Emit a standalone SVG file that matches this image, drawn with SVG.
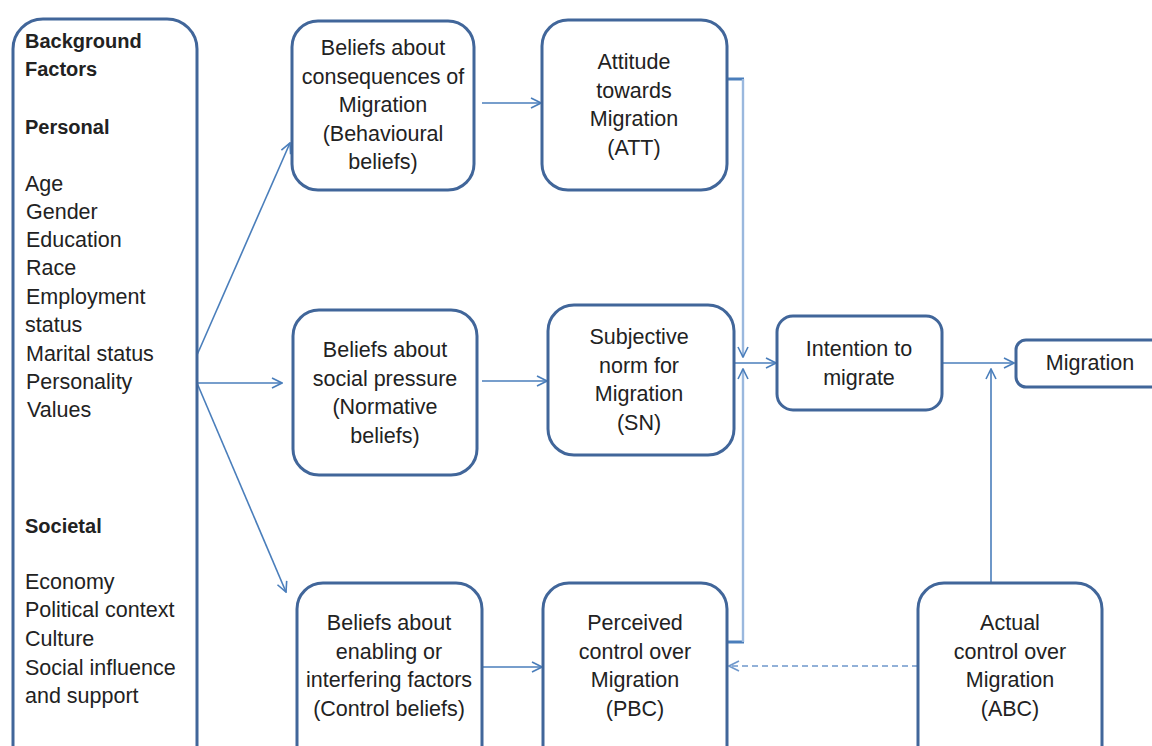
<svg xmlns="http://www.w3.org/2000/svg" width="1152" height="746" viewBox="0 0 1152 746">
  <defs>
    <marker id="open" viewBox="0 0 12 12" refX="11" refY="6" markerWidth="12" markerHeight="12" markerUnits="userSpaceOnUse" orient="auto">
      <path d="M1,1 L11,6 L1,11" fill="none" stroke="#4a7ebb" stroke-width="1.6"/>
    </marker>
    <marker id="openLight" viewBox="0 0 12 12" refX="11" refY="6" markerWidth="12" markerHeight="12" markerUnits="userSpaceOnUse" orient="auto">
      <path d="M1,1 L11,6 L1,11" fill="none" stroke="#6f98cc" stroke-width="1.6"/>
    </marker>
    <style>
      .box { fill: #ffffff; stroke: #41669a; stroke-width: 3; }
      .t { font-family: "Liberation Sans", Arial, sans-serif; font-size: 21.5px; fill: #222222; }
      .c { text-anchor: middle; }
      .b { font-weight: bold; font-size: 20px; }
      .link { fill: none; stroke: #4a7ebb; stroke-width: 1.6; }
      .rail { fill: none; stroke: #9ab8de; stroke-width: 2.4; }
      .stub { fill: none; stroke: #4a7ebb; stroke-width: 3; }
      .dash { fill: none; stroke: #6f98cc; stroke-width: 1.6; stroke-dasharray: 6 4; }
    </style>
  </defs>

  <rect width="1152" height="746" fill="#ffffff"/>

  <!-- connectors -->
  <g id="connectors">
    <line class="link" x1="197" y1="355" x2="290" y2="143" marker-end="url(#open)"/>
    <line class="link" x1="197" y1="383" x2="282" y2="383" marker-end="url(#open)"/>
    <line class="link" x1="197" y1="383" x2="286" y2="592" marker-end="url(#open)"/>
    <line class="link" x1="482" y1="103" x2="541" y2="103" marker-end="url(#open)"/>
    <line class="link" x1="482" y1="381" x2="547" y2="381" marker-end="url(#open)"/>
    <line class="link" x1="482" y1="667" x2="542" y2="667" marker-end="url(#open)"/>
    <!-- ATT and PBC feed into the shared rail -->
    <line class="stub" x1="727" y1="79" x2="744" y2="79"/>
    <line class="rail" x1="743" y1="79" x2="743" y2="357" marker-end="url(#open)"/>
    <line class="stub" x1="727" y1="642" x2="744" y2="642"/>
    <line class="rail" x1="743" y1="642" x2="743" y2="369" marker-end="url(#open)"/>
    <line class="link" x1="734" y1="363" x2="776" y2="363" marker-end="url(#open)"/>
    <line class="link" x1="942" y1="363" x2="1014" y2="363" marker-end="url(#open)"/>
    <line class="link" x1="991" y1="583" x2="991" y2="369" marker-end="url(#open)"/>
    <line class="dash" x1="918" y1="666" x2="729" y2="666" marker-end="url(#openLight)"/>
  </g>

  <!-- background factors -->
  <g id="background">
    <rect class="box" x="13" y="19" width="184" height="770" rx="30"/>
    <text class="t b" x="25" y="48">Background</text>
    <text class="t b" x="25" y="76">Factors</text>
    <text class="t b" x="25" y="134">Personal</text>
    <text class="t" x="25" y="191">Age</text>
    <text class="t" x="26" y="219">Gender</text>
    <text class="t" x="26" y="247">Education</text>
    <text class="t" x="26" y="275">Race</text>
    <text class="t" x="26" y="304">Employment</text>
    <text class="t" x="25" y="332">status</text>
    <text class="t" x="26" y="361">Marital status</text>
    <text class="t" x="26" y="389">Personality</text>
    <text class="t" x="27" y="417">Values</text>
    <text class="t b" x="25" y="533">Societal</text>
    <text class="t" x="25" y="589">Economy</text>
    <text class="t" x="25" y="617">Political context</text>
    <text class="t" x="25" y="646">Culture</text>
    <text class="t" x="25" y="675">Social influence</text>
    <text class="t" x="25" y="703">and support</text>
  </g>

  <g id="behavioural">
    <rect class="box" x="292" y="21" width="182" height="169" rx="26"/>
    <text class="t c" x="383" y="55">Beliefs about</text>
    <text class="t c" x="383" y="83.5">consequences of</text>
    <text class="t c" x="383" y="112">Migration</text>
    <text class="t c" x="383" y="140.5">(Behavioural</text>
    <text class="t c" x="383" y="169">beliefs)</text>
  </g>

  <g id="attitude">
    <rect class="box" x="542" y="20" width="185" height="170" rx="26"/>
    <text class="t c" x="634" y="69">Attitude</text>
    <text class="t c" x="634" y="97.5">towards</text>
    <text class="t c" x="634" y="126">Migration</text>
    <text class="t c" x="634" y="154.5">(ATT)</text>
  </g>

  <g id="normative">
    <rect class="box" x="293" y="310" width="184" height="165" rx="26"/>
    <text class="t c" x="385" y="357">Beliefs about</text>
    <text class="t c" x="385" y="385.5">social pressure</text>
    <text class="t c" x="385" y="414">(Normative</text>
    <text class="t c" x="385" y="442.5">beliefs)</text>
  </g>

  <g id="subjective-norm">
    <rect class="box" x="548" y="305" width="186" height="150" rx="26"/>
    <text class="t c" x="639" y="344">Subjective</text>
    <text class="t c" x="639" y="372.5">norm for</text>
    <text class="t c" x="639" y="401">Migration</text>
    <text class="t c" x="639" y="429.5">(SN)</text>
  </g>

  <g id="intention">
    <rect class="box" x="777" y="316" width="165" height="94" rx="16"/>
    <text class="t c" x="859" y="356">Intention to</text>
    <text class="t c" x="859" y="384.5">migrate</text>
  </g>

  <g id="migration">
    <rect class="box" x="1016" y="340" width="170" height="47" rx="10"/>
    <text class="t c" x="1090" y="370">Migration</text>
  </g>

  <g id="control-beliefs">
    <rect class="box" x="297" y="583" width="185" height="200" rx="26"/>
    <text class="t c" x="389" y="630">Beliefs about</text>
    <text class="t c" x="389" y="658.5">enabling or</text>
    <text class="t c" x="389" y="687">interfering factors</text>
    <text class="t c" x="389" y="715.5">(Control beliefs)</text>
  </g>

  <g id="perceived-control">
    <rect class="box" x="543" y="583" width="184" height="200" rx="26"/>
    <text class="t c" x="635" y="630">Perceived</text>
    <text class="t c" x="635" y="658.5">control over</text>
    <text class="t c" x="635" y="687">Migration</text>
    <text class="t c" x="635" y="715.5">(PBC)</text>
  </g>

  <g id="actual-control">
    <rect class="box" x="918" y="583" width="184" height="200" rx="26"/>
    <text class="t c" x="1010" y="630">Actual</text>
    <text class="t c" x="1010" y="658.5">control over</text>
    <text class="t c" x="1010" y="687">Migration</text>
    <text class="t c" x="1010" y="715.5">(ABC)</text>
  </g>
</svg>
